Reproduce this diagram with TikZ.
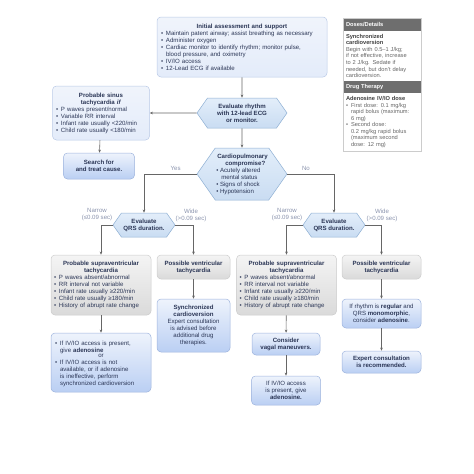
\documentclass[tikz,border=0pt]{standalone}
\usepackage{fontspec}
\setsansfont{Liberation Sans}
\usetikzlibrary{arrows.meta,positioning,shapes.symbols,fit}
\definecolor{ink}{HTML}{2B3656}
\definecolor{soft}{HTML}{8A93AD}
\definecolor{bluedge}{HTML}{9DB3DD}
\definecolor{bluetop}{HTML}{EEF3FC}
\definecolor{bluebot}{HTML}{BACFF3}
\definecolor{paleblue}{HTML}{F0F4FB}
\definecolor{greyedge}{HTML}{CCCCCC}
\definecolor{greytop}{HTML}{F4F4F4}
\definecolor{greybot}{HTML}{DADADA}
\definecolor{hextop}{HTML}{E3EEFA}
\definecolor{hexbot}{HTML}{C9DCF2}
\definecolor{hexedge}{HTML}{8EAFD3}
\definecolor{panelhead}{HTML}{6E6E6E}
\definecolor{paneltext}{HTML}{666666}
\definecolor{wire}{HTML}{666666}
\newcommand{\fs}{\fontsize{6.1}{7}\selectfont}
\newcommand{\fsp}{\fontsize{5.7}{6.6}\selectfont}
\newcommand{\bul}[1]{\par\noindent\makebox[5pt][l]{\textbullet}%
  \parbox[t]{\dimexpr\hsize-5pt\relax}{\raggedright #1}\par}

\begin{document}
\begin{tikzpicture}[x=1pt, y=-1pt,
  every node/.style={font=\sffamily\fs, text=ink},
  bluebox/.style={draw=bluedge, rounded corners=4pt, top color=bluetop, bottom color=bluebot,
                  line width=0.5pt, align=center, inner sep=2pt},
  palebox/.style={draw=bluedge!70, rounded corners=4pt, top color=paleblue, bottom color=bluetop!80!bluebot,
                  line width=0.5pt, align=left, inner sep=3pt},
  greybox/.style={draw=greyedge, rounded corners=4pt, top color=greytop, bottom color=greybot,
                  line width=0.5pt, align=left, inner sep=3pt},
  hexa/.style={signal, signal to=east and west, signal pointer angle=110, draw=hexedge,
               top color=hextop, bottom color=hexbot, line width=0.5pt, align=center, inner sep=1pt},
  phead/.style={fill=panelhead, text=white, font=\sffamily\fsp\bfseries, text width=72pt,
                minimum height=12pt, inner sep=3pt, align=left},
  pbody/.style={text=paneltext, font=\sffamily\fsp, text width=72pt, inner sep=3pt, align=left},
  lbl/.style={text=soft, align=center},
  link/.style={->, wire, line width=0.6pt},
  >={Stealth[length=3.2pt,width=2.6pt]}
]
\useasboundingbox (0,0) rectangle (474,474);

% top of the chart
\node[palebox, minimum width=170pt, minimum height=60pt, text width=162pt] (start) at (242,47)
  {\centering\textbf{Initial assessment and support}
   \bul{Maintain patent airway; assist breathing as necessary}
   \bul{Administer oxygen}
   \bul{Cardiac monitor to identify rhythm; monitor pulse,\\ blood pressure, and oximetry}
   \bul{IV/IO access}
   \bul{12-Lead ECG if available}};

\node[hexa, minimum width=90pt, minimum height=30pt] (rhythm) at (242,113)
  {\textbf{Evaluate rhythm}\\\textbf{with 12-lead ECG}\\\textbf{or monitor.}};

\node[palebox, minimum width=97pt, minimum height=54pt, text width=90pt] (sinus) at (101,113)
  {\centering\textbf{Probable sinus}\\\textbf{tachycardia \textit{if}}
   \bul{P waves present/normal}
   \bul{Variable RR interval}
   \bul{Infant rate usually <220/min}
   \bul{Child rate usually <180/min}};

\node[bluebox, minimum width=71pt, minimum height=26pt] (search) at (99,166)
  {\textbf{Search for}\\\textbf{and treat cause.}};

\node[hexa, minimum width=88pt, minimum height=52pt, align=left] (cardio) at (242,174)
  {\hspace*{1pt}\textbf{Cardiopulmonary}\\\hspace*{9pt}\textbf{compromise?}\\
   \textbullet\ Acutely altered\\\hspace*{5pt}mental status\\
   \textbullet\ Signs of shock\\\textbullet\ Hypotension};

% QRS decisions
\node[hexa, minimum width=62pt, minimum height=24pt] (qrsL) at (144,225)
  {\textbf{Evaluate}\\\textbf{QRS duration.}};
\node[hexa, minimum width=62pt, minimum height=24pt] (qrsR) at (334,225)
  {\textbf{Evaluate}\\\textbf{QRS duration.}};

\node[lbl] (narrowL) at (97,215) {Narrow\\(≤0.09 sec)};
\node[lbl] (wideL) at (191,215) {Wide\\(>0.09 sec)};
\node[lbl] (narrowR) at (287,215) {Narrow\\(≤0.09 sec)};
\node[lbl] (wideR) at (382,215) {Wide\\(>0.09 sec)};

% rhythm boxes
\node[greybox, minimum width=100pt, minimum height=60pt, text width=94pt] (svtL) at (101,285)
  {\centering\textbf{Probable supraventricular}\\\textbf{tachycardia}
   \bul{P waves absent/abnormal}
   \bul{RR interval not variable}
   \bul{Infant rate usually ≥220/min}
   \bul{Child rate usually ≥180/min}
   \bul{History of abrupt rate change}};
\node[greybox, align=center, minimum width=73pt, minimum height=24pt] (vtL) at (193.5,267)
  {\textbf{Possible ventricular}\\\textbf{tachycardia}};
\node[greybox, minimum width=100pt, minimum height=60pt, text width=94pt] (svtR) at (286.5,285)
  {\centering\textbf{Probable supraventricular}\\\textbf{tachycardia}
   \bul{P waves absent/abnormal}
   \bul{RR interval not variable}
   \bul{Infant rate usually ≥220/min}
   \bul{Child rate usually ≥180/min}
   \bul{History of abrupt rate change}};
\node[greybox, align=center, minimum width=79pt, minimum height=24pt] (vtR) at (381.5,267)
  {\textbf{Possible ventricular}\\\textbf{tachycardia}};

% treatment
\node[bluebox, align=left, inner sep=3pt, minimum width=100pt, minimum height=59pt, text width=92pt] (ivL) at (101,362.5)
  {\bul{If IV/IO access is present,\\ give \textbf{adenosine}}
   {\centering or\par}
   \bul{If IV/IO access is not\\ available, or if adenosine\\ is ineffective, perform\\ synchronized cardioversion}};
\node[bluebox, minimum width=73pt, minimum height=53pt] (sync) at (193.5,325.5)
  {\textbf{Synchronized}\\\textbf{cardioversion}\\Expert consultation\\is advised before\\additional drug\\therapies.};
\node[bluebox, minimum width=68pt, minimum height=22pt] (vagal) at (286,344)
  {\textbf{Consider}\\\textbf{vagal maneuvers.}};
\node[bluebox, minimum width=69pt, minimum height=29pt] (ivR) at (286,390.5)
  {If IV/IO access\\is present, give\\\textbf{adenosine.}};
\node[bluebox, minimum width=79pt, minimum height=29pt] (regular) at (381.5,313.5)
  {If rhythm is \textbf{regular} and\\QRS \textbf{monomorphic},\\consider \textbf{adenosine}.};
\node[bluebox, minimum width=79pt, minimum height=22pt] (expert) at (381.5,362)
  {\textbf{Expert consultation}\\\textbf{is recommended.}};

% side panel
\node[phead] (dhead) at (382,24.5) {Doses/Details};
\node[pbody, below=0pt of dhead] (dbody)
  {\textcolor{black!75}{\textbf{Synchronized}\\\textbf{cardioversion}}\\
   Begin with 0.5–1 J/kg;\\if not effective, increase\\to 2 J/kg. Sedate if\\needed, but don't delay\\cardioversion.};
\node[phead, below=0pt of dbody] (thead) {Drug Therapy};
\node[pbody, below=0pt of thead] (tbody)
  {\textcolor{black!75}{\textbf{Adenosine IV/IO dose}}
   \bul{First dose: 0.1 mg/kg\\ rapid bolus (maximum:\\ 6 mg)}
   \bul{Second dose:\\ 0.2 mg/kg rapid bolus\\ (maximum second\\ dose: 12 mg)}};
\node[draw=greyedge, line width=0.5pt, fit=(dhead)(tbody), inner sep=0pt] (panel) {};

% connectors
\draw[link] (start) -- (rhythm);
\draw[link] (rhythm) -- (cardio);
\draw[link] (rhythm) -- (sinus);
\draw[link] (sinus) -- (search);
\draw[link] (cardio.west) -| (qrsL.north) node[pos=0.2, above, text=soft] (yes) {Yes};
\draw[link] (cardio.east) -| (qrsR.north) node[pos=0.2, above, text=soft] (no) {No};
\draw[link] (qrsL.west) -| (svtL.north);
\draw[link] (qrsL.east) -| (vtL.north);
\draw[link] (qrsR.west) -| (svtR.north);
\draw[link] (qrsR.east) -| (vtR.north);
\draw[link] (svtL) -- (ivL);
\draw[link] (vtL) -- (sync);
\draw[link] (svtR) -- (vagal);
\draw[link] (vagal) -- (ivR);
\draw[link] (vtR) -- (regular);
\draw[link] (regular) -- (expert);

\end{tikzpicture}
\end{document}
